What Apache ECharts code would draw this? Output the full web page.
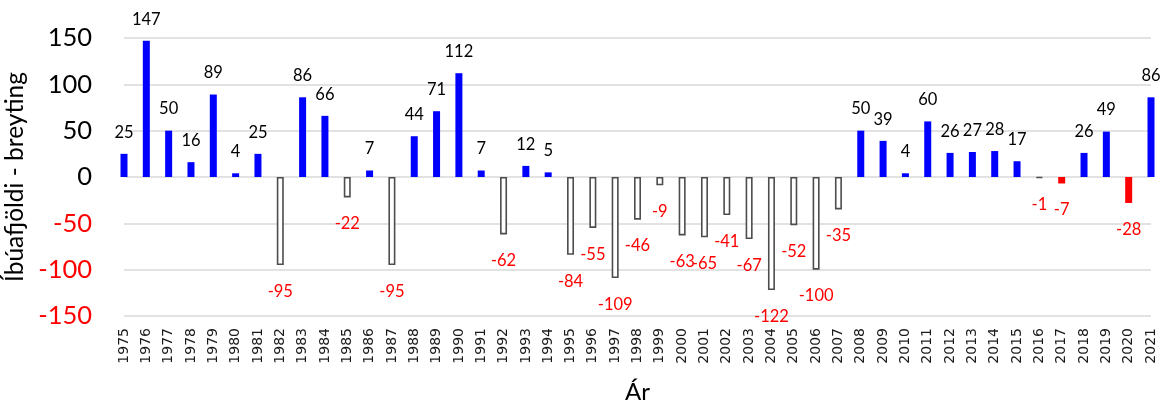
<!DOCTYPE html>
<html>
<head>
<meta charset="utf-8">
<script src="https://cdn.jsdelivr.net/npm/echarts@6/dist/echarts.min.js"></script>
<style>
  html, body { margin: 0; padding: 0; background: #fff; }
  #chart { width: 1167px; height: 403px; }
</style>
</head>
<body>
<div id="chart"></div>
<script>
// Yearly population change
const years = [
  '1975','1976','1977','1978','1979','1980','1981','1982','1983','1984',
  '1985','1986','1987','1988','1989','1990','1991','1992','1993','1994',
  '1995','1996','1997','1998','1999','2000','2001','2002','2003','2004',
  '2005','2006','2007','2008','2009','2010','2011','2012','2013','2014',
  '2015','2016','2017','2018','2019','2020','2021'
];
const changes = [
  25, 147, 50, 16, 89, 4, 25, -95, 86, 66,
  -22, 7, -95, 44, 71, 112, 7, -62, 12, 5,
  -84, -55, -109, -46, -9, -63, -65, -41, -67, -122,
  -52, -100, -35, 50, 39, 4, 60, 26, 27, 28,
  17, -1, -7, 26, 49, -28, 86
];
const yTicks = { min: -150, max: 150, step: 50 };

// Declines drawn as solid red bars; other declines are hollow outlines
const solidDeclineYears = ['2017', '2020'];

const FONT = 'Lato, "Open Sans", sans-serif';
const BLUE = '#0000ff';
const RED = '#ff0000';

const barData = changes.map((v, i) => {
  let itemStyle;
  if (v >= 0) {
    itemStyle = { color: BLUE };
  } else if (solidDeclineYears.includes(years[i])) {
    itemStyle = { color: RED };
  } else {
    itemStyle = { color: '#ffffff', borderColor: '#4d4d4d', borderWidth: 1.6 };
  }
  return {
    value: v,
    itemStyle,
    label: v >= 0
      ? { position: 'top', distance: 13, color: '#000000' }
      : { position: 'bottom', distance: 18, color: RED }
  };
});

const chart = echarts.init(document.getElementById('chart'), null, { renderer: 'canvas' });
chart.setOption({
  animation: false,
  backgroundColor: '#ffffff',
  grid: {
    left: 124, right: 16, top: 38, bottom: 87,
    containLabel: false,
    outerBoundsMode: 'none'
  },
  xAxis: {
    type: 'category',
    data: years,
    boundaryGap: false,
    name: 'Ár',
    nameLocation: 'middle',
    nameGap: 64,
    nameTextStyle: { fontFamily: FONT, fontSize: 24, color: '#000' },
    axisLine: { show: false, onZero: false },
    axisTick: { show: false },
    axisLabel: {
      rotate: 90,
      interval: 0,
      margin: 12,
      fontFamily: '"DejaVu Sans", sans-serif',
      fontSize: 14,
      color: '#1a1a1a'
    },
    splitLine: { show: false }
  },
  yAxis: {
    type: 'value',
    min: yTicks.min,
    max: yTicks.max,
    interval: yTicks.step,
    name: 'Íbúafjöldi - breyting',
    nameLocation: 'middle',
    nameRotate: 90,
    nameGap: 90,
    nameTextStyle: { fontFamily: FONT, fontSize: 24.5, color: '#000' },
    axisLine: { show: false },
    axisTick: { show: false },
    axisLabel: {
      margin: 32,
      fontFamily: FONT,
      fontSize: 25.5,
      color: (val) => (Number(val) < 0 ? RED : '#000000')
    },
    splitLine: { lineStyle: { color: '#d9d9d9', width: 1.5 } }
  },
  series: [{
    type: 'bar',
    data: barData,
    barWidth: 7,
    clip: true,
    label: {
      show: true,
      fontFamily: FONT,
      fontSize: 16.5
    }
  }]
});
</script>
</body>
</html>
